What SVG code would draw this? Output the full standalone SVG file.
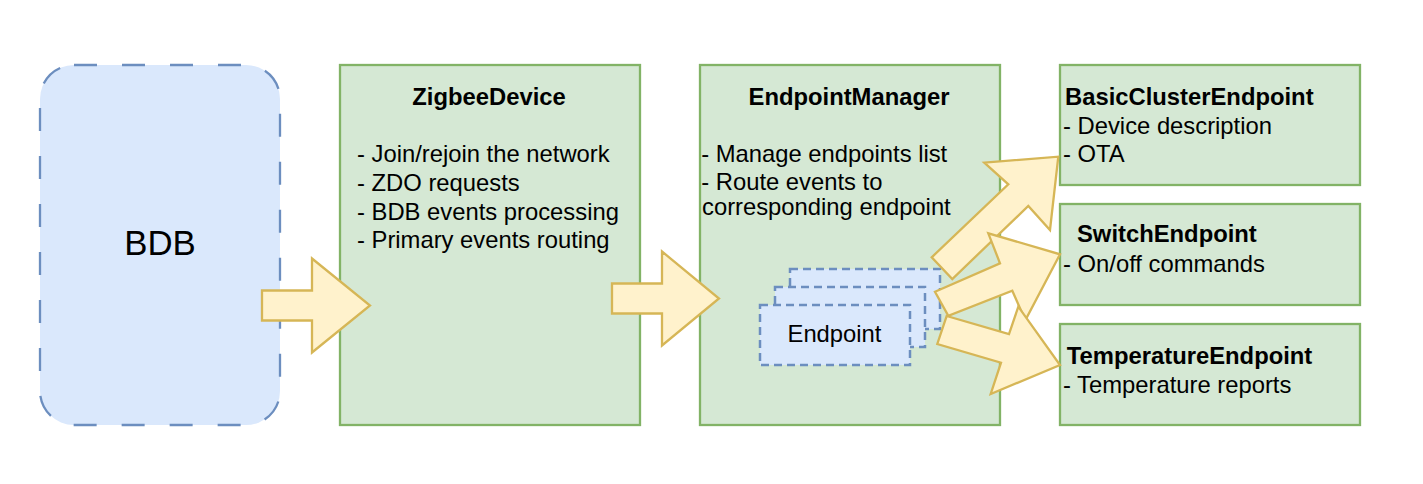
<svg xmlns="http://www.w3.org/2000/svg" width="1423" height="484" viewBox="0 0 1423 484">
<defs>
<style>
.blue{fill:#dae8fc;stroke:#6c8ebf;stroke-width:2.3}
.green{fill:#d5e8d4;stroke:#82b366;stroke-width:2.3}
.ep{stroke-dasharray:8 5;stroke-width:2.5}
.arrow{fill:#fff2cc;stroke:#d6b656;stroke-width:2.3;stroke-linejoin:miter;stroke-miterlimit:10}
text{font-family:"Liberation Sans",Arial,Helvetica,sans-serif;font-size:23.8px;fill:#000}
.b{font-weight:bold}
.c{text-anchor:middle}
</style>
</defs>
<rect width="1423" height="484" fill="#ffffff"/>
<g id="bdb">
<rect class="blue" x="40" y="65" width="240" height="360" rx="34" ry="34" stroke-dasharray="23 25"/>
<text class="c" x="160" y="255" style="font-size:34.8px">BDB</text>
</g>
<g id="zigbeedevice">
<rect class="green" x="340" y="65" width="300" height="360"/>
<text class="b c" x="489" y="105">ZigbeeDevice</text>
<text x="357" y="162">- Join/rejoin the network</text>
<text x="357" y="191">- ZDO requests</text>
<text x="357" y="219.5">- BDB events processing</text>
<text x="357" y="248">- Primary events routing</text>
</g>
<g id="endpointmanager">
<rect class="green" x="700" y="65" width="300" height="360"/>
<text class="b c" x="849" y="105">EndpointManager</text>
<text x="701.2" y="162">- Manage endpoints list</text>
<text x="701.2" y="190">- Route events to</text>
<text x="702" y="215">corresponding endpoint</text>
</g>
<g id="endpoint">
<rect class="blue ep" x="790" y="269" width="150" height="60"/>
<rect class="blue ep" x="775" y="287" width="150" height="60"/>
<rect class="blue ep" x="760" y="305" width="150" height="60"/>
<text class="c" x="834.5" y="342">Endpoint</text>
</g>
<g id="basicclusterendpoint">
<rect class="green" x="1060" y="65" width="300" height="120"/>
<text class="b" x="1065" y="105">BasicClusterEndpoint</text>
<text x="1063" y="134.3">- Device description</text>
<text x="1063" y="162.3">- OTA</text>
</g>
<g id="switchendpoint">
<rect class="green" x="1060" y="204" width="300" height="101"/>
<text class="b" x="1077" y="242.3">SwitchEndpoint</text>
<text x="1063" y="271.7">- On/off commands</text>
</g>
<g id="temperatureendpoint">
<rect class="green" x="1060" y="324" width="300" height="101"/>
<text class="b" x="1066.8" y="364.3">TemperatureEndpoint</text>
<text x="1063" y="393.3">- Temperature reports</text>
</g>
<g id="connectors">
<polygon class="arrow" points="262,290.5 312,290.5 312,258.5 370,305.5 312,352.5 312,320.5 262,320.5"/>
<polygon class="arrow" points="612,283.5 662,283.5 662,251.5 719,298.5 662,345.5 662,313.5 612,313.5"/>
<polygon class="arrow" points="931.7,257.3 1008.3,184.3 984.3,162.7 1058.3,156.7 1050,230 1028.3,206 952.3,279"/>
<polygon class="arrow" points="935,291.7 1000,263.3 988.3,233.3 1060,254.3 1025.3,320.3 1012.3,290.7 948.3,315.7"/>
<polygon class="arrow" points="946.7,316 1009,334 1018.3,306.7 1060,365 990.7,394 1001,362.7 937.3,344"/>
</g>
</svg>
